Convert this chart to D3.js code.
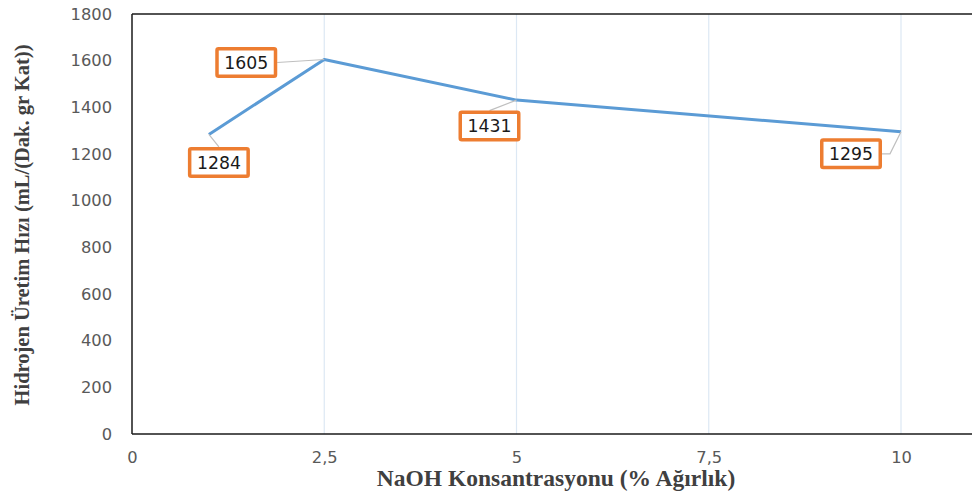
<!DOCTYPE html>
<html><head><meta charset="utf-8">
<script src="https://cdn.jsdelivr.net/npm/d3@7"></script>
<style>body{margin:0;background:#fff}svg{display:block}</style>
</head><body><svg id="c" width="972" height="493"></svg>
<script>
// ---- data ----
const concentrations = [1, 2.5, 5, 10];
const rates = [1284, 1605, 1431, 1295];
const xTickValues = [0, 2.5, 5, 7.5, 10];
const yTickValues = [0, 200, 400, 600, 800, 1000, 1200, 1400, 1600, 1800];
const xTitle = "NaOH Konsantrasyonu (% Ağırlık)";
const yTitle = "Hidrojen Üretim Hızı (mL/(Dak. gr Kat))";

// ---- layout (label placement offsets, px) ----
const labelOffsets = [[10, 28], [-78, 3], [-27, 26], [-50, 22]];

(function () {
const svg = d3.select("#c");
const W = 972, H = 493;
const mLeft = 132, mTop = 14, mBottom = 434;
const unit = 76.9;

const x = d3.scaleLinear().domain([0, 11]).range([mLeft, mLeft + 11 * unit]);
const y = d3.scaleLinear().domain([0, 1800]).range([mBottom, mTop]);

// gridlines
svg.append("g").selectAll("line").data(xTickValues.filter(d => d > 0)).join("line")
  .attr("x1", d => x(d)).attr("x2", d => x(d))
  .attr("y1", mTop).attr("y2", mBottom)
  .attr("stroke", "#DCE8F4").attr("stroke-width", 1.2);

// frame lines
const frame = svg.append("g").attr("stroke", "#1a1a1a").attr("stroke-width", 1.5);
frame.append("line").attr("x1", mLeft).attr("x2", W).attr("y1", mTop).attr("y2", mTop);
frame.append("line").attr("x1", mLeft).attr("x2", W).attr("y1", mBottom).attr("y2", mBottom);
frame.append("line").attr("x1", mLeft).attr("x2", mLeft).attr("y1", mTop).attr("y2", mBottom);

// axes
const fmt = d => String(d).replace(".", ",");
const yAxis = svg.append("g").attr("transform", `translate(${mLeft},0)`)
  .call(d3.axisLeft(y).tickValues(yTickValues).tickSize(0).tickPadding(20).tickFormat(fmt));
const xAxis = svg.append("g").attr("transform", `translate(0,${mBottom})`)
  .call(d3.axisBottom(x).tickValues(xTickValues).tickSize(0).tickPadding(17).tickFormat(fmt));
[yAxis, xAxis].forEach(a => {
  a.select(".domain").remove();
  a.selectAll("text").attr("font-family", "DejaVu Sans").attr("font-size", 16.3).attr("fill", "#595959");
});

// line
const pts = concentrations.map((c, i) => [c, rates[i]]);
svg.append("path").datum(pts)
  .attr("d", d3.line().x(d => x(d[0])).y(d => y(d[1])))
  .attr("fill", "none").attr("stroke", "#5B9BD5").attr("stroke-width", 3)
  .attr("stroke-linejoin", "round");

// labels
const bw = 62, bh = 31;
pts.forEach((p, i) => {
  const px = x(p[0]), py = y(p[1]);
  const cx = px + labelOffsets[i][0], cy = py + labelOffsets[i][1];
  const dx = cx - px;
  let pathD;
  if (Math.abs(dx) > bw / 2) {
    const ex = dx < 0 ? cx + bw / 2 : cx - bw / 2;
    const elbow = dx < 0 ? ex + 8 : ex - 8;
    if (Math.abs(cy - py) > 8) pathD = `M${px},${py}L${elbow},${cy}L${ex},${cy}`;
    else pathD = `M${px},${py}L${ex},${cy}`;
  } else {
    const ey = cy > py ? cy - bh / 2 : cy + bh / 2;
    pathD = `M${px},${py}L${cx},${ey}`;
  }
  svg.append("path").attr("d", pathD).attr("fill", "none")
    .attr("stroke", "#BFBFBF").attr("stroke-width", 1.2);
  svg.append("rect")
    .attr("x", cx - bw / 2 + 1.75).attr("y", cy - bh / 2 + 1.75)
    .attr("width", bw - 3.5).attr("height", bh - 3.5).attr("rx", 1.5)
    .attr("fill", "#fff").attr("stroke", "#ED7D31").attr("stroke-width", 3.5);
  svg.append("text").attr("x", cx).attr("y", cy).attr("dy", "0.36em")
    .attr("text-anchor", "middle").attr("font-family", "DejaVu Sans")
    .attr("font-size", 17.3).attr("fill", "#1a1a1a").text(p[1]);
});

// axis titles
svg.append("text").attr("x", 556).attr("y", 486).attr("text-anchor", "middle")
  .attr("font-family", "Liberation Serif").attr("font-weight", "bold")
  .attr("font-size", 23.5).attr("fill", "#404040").text(xTitle);
svg.append("text").attr("transform", "translate(29,225) rotate(-90)")
  .attr("text-anchor", "middle")
  .attr("font-family", "Liberation Serif").attr("font-weight", "bold")
  .attr("font-size", 20.5).attr("fill", "#404040").text(yTitle);
})();
</script>
</body></html>
